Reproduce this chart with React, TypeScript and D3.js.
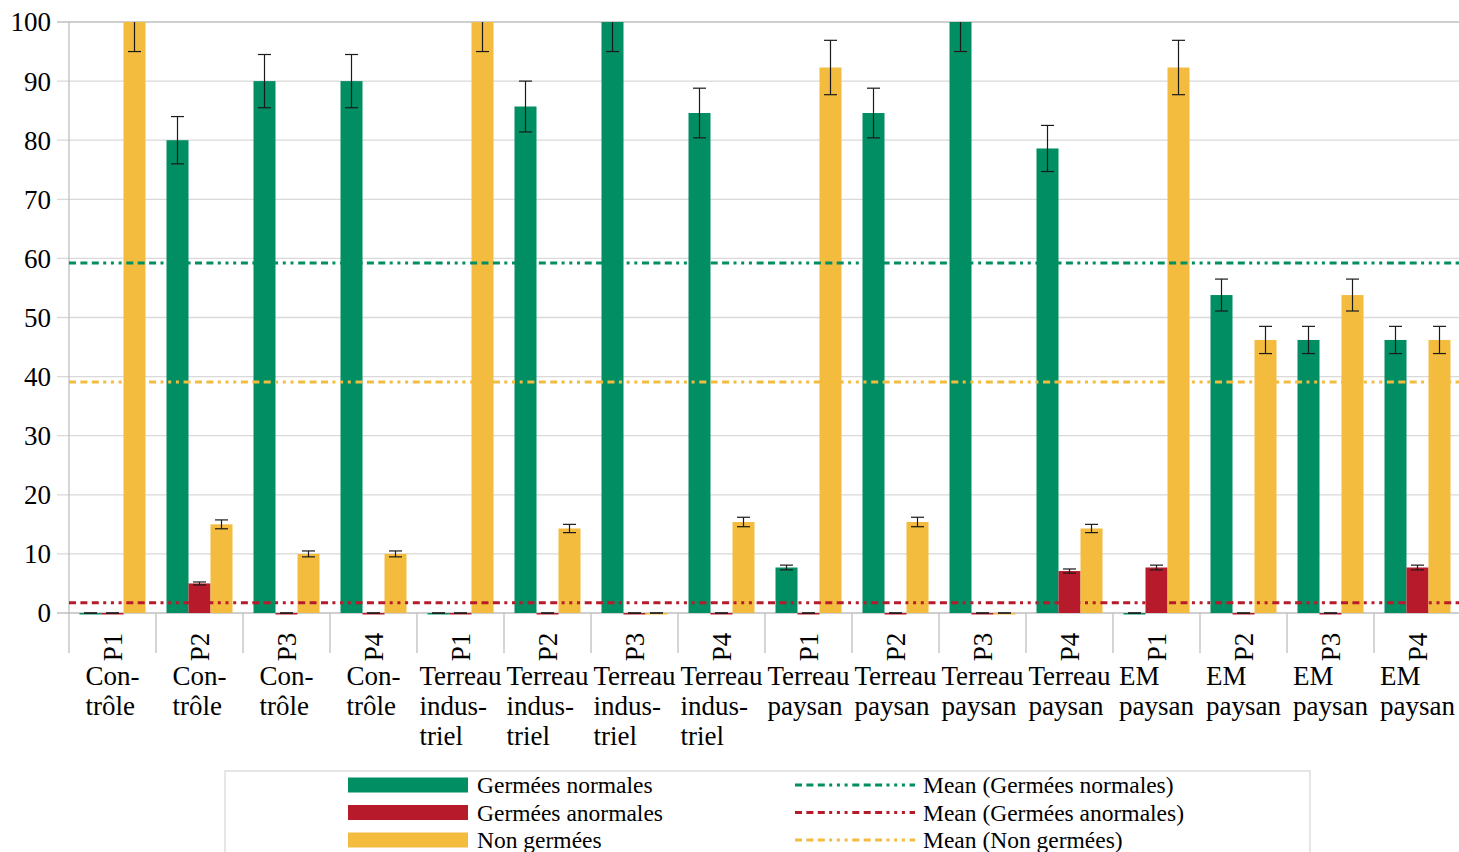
import React, { useRef, useEffect } from "react";
import * as d3 from "d3";

const pLabels = ["P1", "P2", "P3", "P4", "P1", "P2", "P3", "P4", "P1", "P2", "P3", "P4", "P1", "P2", "P3", "P4"];
const groupLabels = [
  ["Con-", "trôle"], ["Con-", "trôle"], ["Con-", "trôle"], ["Con-", "trôle"],
  ["Terreau", "indus-", "triel"], ["Terreau", "indus-", "triel"], ["Terreau", "indus-", "triel"], ["Terreau", "indus-", "triel"],
  ["Terreau", "paysan"], ["Terreau", "paysan"], ["Terreau", "paysan"], ["Terreau", "paysan"],
  ["EM", "paysan"], ["EM", "paysan"], ["EM", "paysan"], ["EM", "paysan"]
];

const seriesNames = ["Germées normales", "Germées anormales", "Non germées"];
const seriesColors = ["#008e62", "#b71b2b", "#f3bc3e"];

const normales = [0, 80, 90, 90, 0, 85.7, 100, 84.6, 7.7, 84.6, 100, 78.6, 0, 53.8, 46.2, 46.2];
const anormales = [0, 5, 0, 0, 0, 0, 0, 0, 0, 0, 0, 7.1, 7.7, 0, 0, 7.7];
const nonGermees = [100, 15, 10, 10, 100, 14.3, 0, 15.4, 92.3, 15.4, 0, 14.3, 92.3, 46.2, 53.8, 46.2];

const errNormales = [0, 4, 4.5, 4.5, 0, 4.3, 5, 4.2, 0.4, 4.2, 5, 3.9, 0, 2.7, 2.3, 2.3];
const errAnormales = [0, 0.25, 0, 0, 0, 0, 0, 0, 0, 0, 0, 0.35, 0.4, 0, 0, 0.4];
const errNonGermees = [5, 0.75, 0.5, 0.5, 5, 0.7, 0, 0.8, 4.6, 0.8, 0, 0.7, 4.6, 2.3, 2.7, 2.3];

const yTicks = [0, 10, 20, 30, 40, 50, 60, 70, 80, 90, 100];

const meanDash = "7,4.4,7,4.4,7,4.4,3,4.7,3,4.7,3,4.7";

const App = () => {
  const node: any = useRef();

  useEffect(() => {
    const width = 1459,
      height = 852;
    const left = 69,
      right = 1461,
      top = 22,
      bottom = 613;
    const font = "Liberation Serif";

    const svg = d3.select(node.current);
    svg.selectAll("*").remove();
    svg.attr("width", width).attr("height", height);

    const values = [normales, anormales, nonGermees];
    const errors = [errNormales, errAnormales, errNonGermees];

    const x = d3
      .scaleBand<number>()
      .domain(d3.range(pLabels.length))
      .range([left, right]);
    const xInner = d3
      .scaleBand<number>()
      .domain([0, 1, 2])
      .range([10.5, x.bandwidth() - 10.5]);
    const y = d3.scaleLinear().domain([0, 100]).range([bottom, top]);

    // grid + y ticks
    svg
      .append("g")
      .selectAll("line")
      .data(yTicks)
      .enter()
      .append("line")
      .attr("x1", 57)
      .attr("x2", width)
      .attr("y1", d => y(d))
      .attr("y2", d => y(d))
      .attr("stroke", d => (d === 100 || d === 0 ? "#bfbfbf" : "#d9d9d9"))
      .attr("stroke-width", 1.3);

    svg
      .append("g")
      .selectAll("text")
      .data(yTicks)
      .enter()
      .append("text")
      .attr("x", 51)
      .attr("y", d => y(d))
      .attr("dy", "0.35em")
      .attr("text-anchor", "end")
      .attr("font-family", font)
      .attr("font-size", 27)
      .text(d => d);

    // axis line and separators
    svg
      .append("line")
      .attr("x1", left)
      .attr("x2", left)
      .attr("y1", top)
      .attr("y2", 653)
      .attr("stroke", "#bfbfbf")
      .attr("stroke-width", 1.3);
    svg
      .append("g")
      .selectAll("line")
      .data(d3.range(1, pLabels.length + 1))
      .enter()
      .append("line")
      .attr("x1", i => left + i * x.bandwidth())
      .attr("x2", i => left + i * x.bandwidth())
      .attr("y1", bottom)
      .attr("y2", 653)
      .attr("stroke", "#bfbfbf")
      .attr("stroke-width", 1.3);

    // bars
    values.forEach((vals, s) => {
      svg
        .append("g")
        .selectAll("rect")
        .data(vals)
        .enter()
        .append("rect")
        .attr("x", (_, i) => (x(i) as number) + (xInner(s) as number))
        .attr("y", d => y(d))
        .attr("width", xInner.bandwidth())
        .attr("height", d => Math.max(bottom - y(d), 1.5))
        .attr("fill", seriesColors[s]);
    });

    // error bars
    values.forEach((vals, s) => {
      const g = svg.append("g").attr("stroke", "#1a1a1a").attr("stroke-width", 1.2);
      vals.forEach((v, i) => {
        const cx = (x(i) as number) + (xInner(s) as number) + xInner.bandwidth() / 2;
        const hi = Math.min(v + errors[s][i], 100);
        const lo = v - errors[s][i];
        g.append("line").attr("x1", cx).attr("x2", cx).attr("y1", y(hi)).attr("y2", y(lo));
        [hi, lo].forEach(e => {
          if (e >= 100) return;
          g.append("line")
            .attr("x1", cx - 6.5)
            .attr("x2", cx + 6.5)
            .attr("y1", y(e))
            .attr("y2", y(e));
        });
      });
    });

    // mean lines
    values.forEach((vals, s) => {
      const m = d3.mean(vals) as number;
      svg
        .append("line")
        .attr("x1", left)
        .attr("x2", width)
        .attr("y1", y(m))
        .attr("y2", y(m))
        .attr("stroke", seriesColors[s])
        .attr("stroke-width", 3)
        .attr("stroke-dasharray", meanDash);
    });

    // x labels
    const xl = svg.append("g").attr("font-family", font).attr("font-size", 27);
    pLabels.forEach((p, i) => {
      const cx = (x(i) as number) + x.bandwidth() / 2;
      xl.append("text")
        .attr("transform", `translate(${cx},647) rotate(-90)`)
        .attr("text-anchor", "middle")
        .attr("dy", "0.35em")
        .text(p);
      const block = xl.append("g");
      const texts = groupLabels[i].map((t, k) =>
        block.append("text").attr("y", 685 + k * 30).text(t)
      );
      const w = d3.max(texts, t => (t.node() as SVGTextElement).getComputedTextLength()) as number;
      texts.forEach(t => t.attr("x", cx - w / 2));
    });

    // legend
    const lg = svg.append("g").attr("font-family", font).attr("font-size", 23.5);
    lg.append("rect")
      .attr("x", 225)
      .attr("y", 771)
      .attr("width", 1085)
      .attr("height", 100)
      .attr("fill", "none")
      .attr("stroke", "#d9d9d9")
      .attr("stroke-width", 1.3);
    seriesNames.forEach((name, s) => {
      const cy = 785 + s * 27.5;
      lg.append("rect")
        .attr("x", 348)
        .attr("y", cy - 7.5)
        .attr("width", 120)
        .attr("height", 15)
        .attr("fill", seriesColors[s]);
      lg.append("text").attr("x", 477).attr("y", cy).attr("dy", "0.35em").text(name);
      lg.append("line")
        .attr("x1", 795)
        .attr("x2", 915)
        .attr("y1", cy)
        .attr("y2", cy)
        .attr("stroke", seriesColors[s])
        .attr("stroke-width", 3)
        .attr("stroke-dasharray", meanDash);
      lg.append("text")
        .attr("x", 923)
        .attr("y", cy)
        .attr("dy", "0.35em")
        .text(`Mean (${name})`);
    });
  }, []);

  return (
    <svg ref={node} style={{ position: "absolute", left: 0, top: 0, display: "block" }}></svg>
  );
};

export default App;
